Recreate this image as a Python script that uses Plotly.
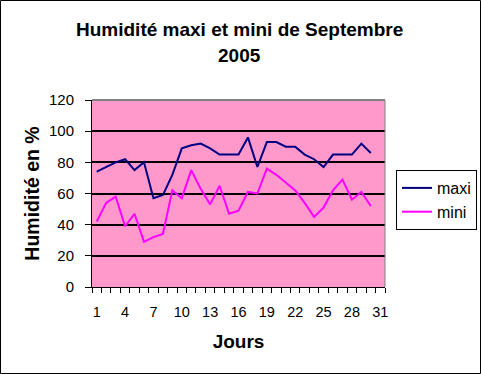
import plotly.graph_objects as go

days = [1, 2, 3, 4, 5, 6, 7, 8, 9, 10, 11, 12, 13, 14, 15,
        16, 17, 18, 19, 20, 21, 22, 23, 24, 25, 26, 27, 28, 29, 30]
maxi = [74, 77, 80, 82, 75, 80, 57, 59, 72, 89, 91, 92, 89, 85, 85,
        85, 96, 77, 93, 93, 90, 90, 85, 82, 77, 85, 85, 85, 92, 86]
mini = [42, 54, 58, 39, 47, 29, 32, 34, 62, 57, 75, 63, 53, 65, 47,
        49, 61, 60, 76, 72, 67, 62, 54, 45, 51, 62, 69, 56, 61, 52]
x_ticklabels = [1, 4, 7, 10, 13, 16, 19, 22, 25, 28, 31]
y_ticks = [0, 20, 40, 60, 80, 100, 120]

W, H = 481, 374
ML, MR, MT, MB = 92, 96, 100, 87
PW = W - ML - MR
PH = H - MT - MB
FONT = "Liberation Sans, Arial, sans-serif"

fig = go.Figure()
fig.add_trace(go.Scatter(x=days, y=maxi, mode="lines", name="maxi",
                         line=dict(color="#000080", width=2)))
fig.add_trace(go.Scatter(x=days, y=mini, mode="lines", name="mini",
                         line=dict(color="#FF00FF", width=2)))

fig.update_layout(
    width=W, height=H,
    margin=dict(l=ML, r=MR, t=MT, b=MB, autoexpand=False),
    paper_bgcolor="white",
    plot_bgcolor="#FF99CC",
    font=dict(family=FONT, color="black", size=14),
    showlegend=True,
    legend=dict(x=(396 - ML) / PW, y=(H - MB - 170) / PH, xanchor="left", yanchor="top",
                bgcolor="white", bordercolor="black", borderwidth=1,
                font=dict(size=16, family=FONT), itemwidth=30,
                tracegroupgap=0),
    annotations=[
        dict(text="<b>Humidité maxi et mini de Septembre</b>", xref="paper", yref="paper",
             x=(239 - ML) / PW, y=(H - MB - 29.5) / PH, xanchor="center", yanchor="middle",
             showarrow=False, font=dict(size=19, family=FONT)),
        dict(text="<b>2005</b>", xref="paper", yref="paper",
             x=(239 - ML) / PW, y=(H - MB - 56) / PH, xanchor="center", yanchor="middle",
             showarrow=False, font=dict(size=19, family=FONT)),
    ],
)

fig.update_xaxes(
    range=[0.5, 31.5], automargin=False,
    tickmode="array", tickvals=x_ticklabels, ticktext=[str(v) for v in x_ticklabels],
    ticks="", showgrid=False, zeroline=False,
    showline=True, linecolor="black", linewidth=1,
    minor=dict(tick0=0.5, dtick=1, ticks="outside", ticklen=5, tickcolor="black",
               tickwidth=1, showgrid=False),
    tickfont=dict(size=14.5, family=FONT),
    ticklabelstandoff=12,
    title=dict(text="<b>Jours</b>", font=dict(size=19, family=FONT), standoff=15),
)
fig.update_yaxes(
    range=[0, 120], automargin=False,
    tickmode="array", tickvals=y_ticks,
    ticks="outside", ticklen=6, tickcolor="black", tickwidth=1,
    showgrid=True, gridcolor="black", gridwidth=2, zeroline=False,
    showline=True, linecolor="black", linewidth=1,
    tickfont=dict(size=15, family=FONT),
    ticklabelstandoff=8,
    title=dict(text="<b>Humidité en %</b>", font=dict(size=19.5, family=FONT), standoff=4),
)

# grey top and right border of the plot area
fig.add_shape(type="line", xref="paper", yref="paper", x0=0, x1=1, y0=1, y1=1,
              line=dict(color="#808080", width=2), layer="above")
fig.add_shape(type="line", xref="paper", yref="paper", x0=1, x1=1, y0=0, y1=1,
              line=dict(color="#808080", width=1), layer="above")
# black frame around the whole chart
fig.add_shape(type="rect", xref="paper", yref="paper",
              x0=(-ML + 0.5) / PW, x1=(PW + MR - 0.5) / PW,
              y0=(-MB + 0.5) / PH, y1=(PH + MT - 0.5) / PH,
              line=dict(color="black", width=1), layer="above")

fig.write_html("out.html",
               config=dict(displayModeBar=False, staticPlot=True),
               post_script="document.body.style.margin='0';document.body.style.overflow='hidden';")
